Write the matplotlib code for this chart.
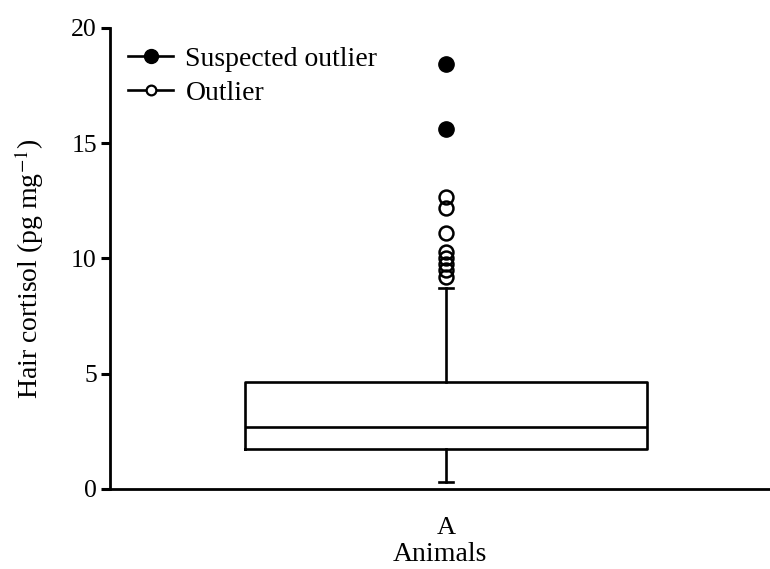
import matplotlib
matplotlib.use("Agg")
import matplotlib.pyplot as plt
from matplotlib.lines import Line2D

plt.rcParams['font.family'] = ['Liberation Serif', 'DejaVu Serif']
plt.rcParams['mathtext.fontset'] = 'stix'

categories = ["A"]
q1 = [1.74]
median = [2.69]
q3 = [4.64]
whisker_low = [0.3]
whisker_high = [8.72]
suspected_outliers = [18.45, 15.6]
outliers = [12.68, 12.2, 11.1, 10.3, 10.0, 9.76, 9.5, 9.2]

fig = plt.figure(figsize=(7.7, 5.69), dpi=100)
ax = fig.add_axes([0.143, 0.1406, 0.857, 0.8102])

stats = [dict(label=categories[0], med=median[0], q1=q1[0], q3=q3[0],
              whislo=whisker_low[0], whishi=whisker_high[0], fliers=[])]
lw = 1.9
ax.bxp(stats, positions=[1], widths=1.0, capwidths=0.036, showfliers=False,
       boxprops=dict(color='black', linewidth=lw),
       medianprops=dict(color='black', linewidth=lw),
       whiskerprops=dict(color='black', linewidth=lw),
       capprops=dict(color='black', linewidth=lw))

ax.plot([1]*len(suspected_outliers), suspected_outliers, 'o', color='black',
        markersize=11, linestyle='none')
ax.plot([1]*len(outliers), outliers, 'o', markerfacecolor='none',
        markeredgecolor='black', markeredgewidth=1.8, markersize=10,
        linestyle='none')

ax.set_xlim(0.165, 1.805)
ax.set_ylim(0, 20)
ax.set_yticks([0, 5, 10, 15, 20])
ax.set_xticks([1])
ax.set_xticklabels(categories)
ax.spines['top'].set_visible(False)
ax.spines['right'].set_visible(False)
ax.spines['left'].set_linewidth(2.0)
ax.spines['bottom'].set_linewidth(2.0)
ax.tick_params(axis='y', direction='out', length=6.5, width=2.2, labelsize=18.5, pad=3)
ax.tick_params(axis='x', length=0, labelsize=19, pad=20)
ax.set_ylabel('Hair cortisol (pg mg$^{-1}$)', fontsize=20, labelpad=18, y=0.478)
ax.set_xlabel('Animals', fontsize=20, labelpad=2)

h1 = Line2D([], [], color='black', marker='o', markersize=10, linewidth=1.9)
h2 = Line2D([], [], color='black', marker='o', markerfacecolor='white',
            markeredgewidth=1.6, markersize=7, linewidth=1.9)
ax.legend([h1, h2], ['Suspected outlier', 'Outlier'], loc='upper left',
          bbox_to_anchor=(0.0, 1.0), frameon=False, fontsize=20,
          handlelength=1.6, handletextpad=0.45, labelspacing=0.3,
          borderaxespad=0.46, borderpad=0.2)

fig.savefig('out.png', dpi=100)
